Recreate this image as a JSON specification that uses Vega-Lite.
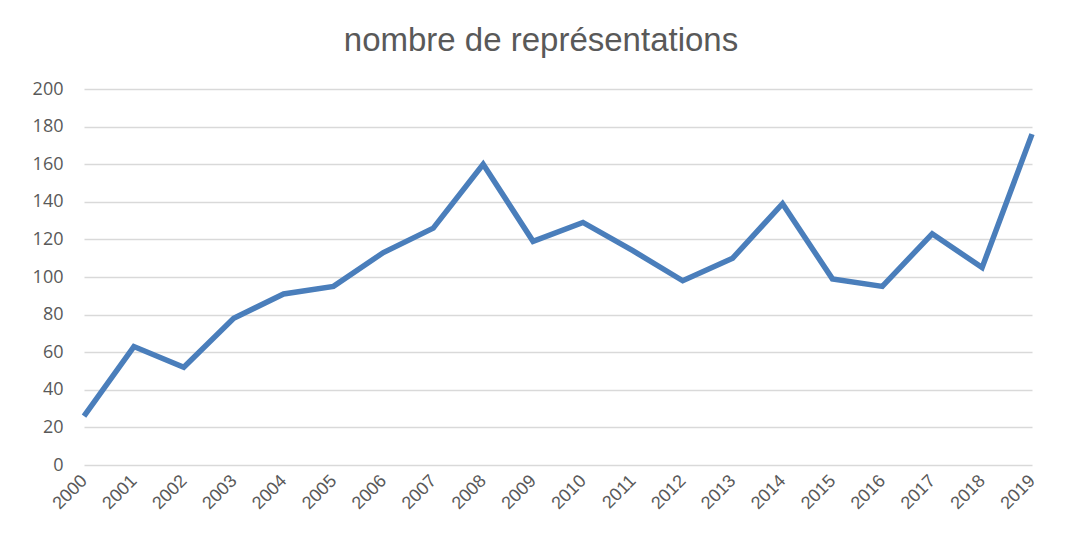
{
  "$schema": "https://vega.github.io/schema/vega-lite/v6.json",
  "autosize": "none",
  "width": 948,
  "height": 376,
  "padding": {"left": 84, "top": 89, "right": 44, "bottom": 68},
  "background": "white",
  "title": {
    "text": "nombre de représentations",
    "font": "Liberation Sans",
    "fontSize": 33,
    "fontWeight": "normal",
    "color": "#595959",
    "anchor": "middle",
    "offset": 22,
    "dx": -17
  },
  "data": {
    "values": [
      {"year": "2000", "value": 26},
      {"year": "2001", "value": 63},
      {"year": "2002", "value": 52},
      {"year": "2003", "value": 78},
      {"year": "2004", "value": 91},
      {"year": "2005", "value": 95},
      {"year": "2006", "value": 113},
      {"year": "2007", "value": 126},
      {"year": "2008", "value": 160},
      {"year": "2009", "value": 119},
      {"year": "2010", "value": 129},
      {"year": "2011", "value": 114},
      {"year": "2012", "value": 98},
      {"year": "2013", "value": 110},
      {"year": "2014", "value": 139},
      {"year": "2015", "value": 99},
      {"year": "2016", "value": 95},
      {"year": "2017", "value": 123},
      {"year": "2018", "value": 105},
      {"year": "2019", "value": 176}
    ]
  },
  "mark": {"type": "line", "color": "#4a7ebb", "strokeWidth": 5.5, "strokeJoin": "miter", "strokeCap": "butt"},
  "encoding": {
    "x": {
      "field": "year",
      "type": "ordinal",
      "scale": {"type": "point", "padding": 0},
      "axis": {
        "title": null,
        "labelAngle": -45,
        "labelAlign": "right",
        "labelBaseline": "middle",
        "labelFont": "Liberation Sans",
        "labelFontSize": 18,
        "labelColor": "#595959",
        "labelPadding": 13,
        "ticks": false,
        "domain": false,
        "grid": false
      }
    },
    "y": {
      "field": "value",
      "type": "quantitative",
      "scale": {"domain": [0, 200], "nice": false},
      "axis": {
        "title": null,
        "values": [0, 20, 40, 60, 80, 100, 120, 140, 160, 180, 200],
        "labelFont": "Open Sans",
        "labelFontSize": 18,
        "labelColor": "#595959",
        "labelPadding": 21,
        "ticks": false,
        "domain": false,
        "grid": true,
        "gridColor": "#d9d9d9",
        "gridWidth": 1.5
      }
    }
  },
  "config": {"view": {"stroke": null}}
}
